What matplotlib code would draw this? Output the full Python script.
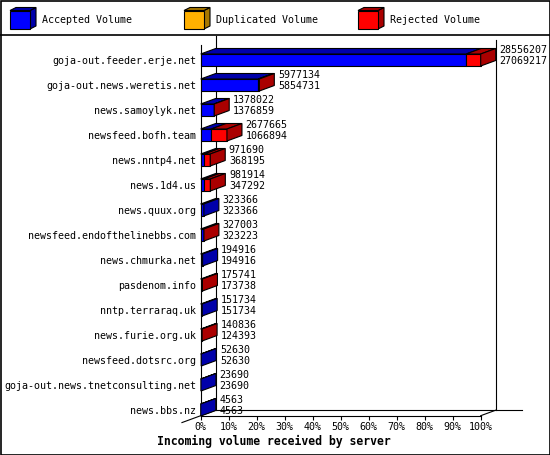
import numpy as np
import matplotlib
matplotlib.use("Agg")
import matplotlib.pyplot as plt
from matplotlib.patches import Polygon, Rectangle

servers = [
    "goja-out.feeder.erje.net", "goja-out.news.weretis.net", "news.samoylyk.net",
    "newsfeed.bofh.team", "news.nntp4.net", "news.1d4.us", "news.quux.org",
    "newsfeed.endofthelinebbs.com", "news.chmurka.net", "pasdenom.info",
    "nntp.terraraq.uk", "news.furie.org.uk", "newsfeed.dotsrc.org",
    "goja-out.news.tnetconsulting.net", "news.bbs.nz",
]
total = [28556207, 5977134, 1378022, 2677665, 971690, 981914, 323366, 327003,
         194916, 175741, 151734, 140836, 52630, 23690, 4563]
accepted = [27069217, 5854731, 1376859, 1066894, 368195, 347292, 323366, 323223,
            194916, 173738, 151734, 124393, 52630, 23690, 4563]
duplicated = [0] * len(servers)

legend_names = ["Accepted Volume", "Duplicated Volume", "Rejected Volume"]
front_cols = ["#0000ff", "#ffb000", "#ff0000"]
dark_cols = ["#0000aa", "#a87800", "#aa0000"]

W, H = 550, 455
FONT = "DejaVu Sans Mono"
FS = 7.2
LW = 0.8

fig = plt.figure(figsize=(W / 100, H / 100), dpi=100)

# canvas in pixel units for the frame and legend
bg = fig.add_axes([0, 0, 1, 1])
bg.set_xlim(0, W)
bg.set_ylim(H, 0)
bg.axis("off")
bg.add_patch(Rectangle((0.5, 0.5), W - 1, H - 1, fill=False, ec="black", lw=1.2))
bg.plot([0, W], [35, 35], color="black", lw=1.2)

for k, name in enumerate(legend_names):
    x0 = [10, 184, 358][k]
    bg.add_patch(Polygon([(x0 + 20, 10.5), (x0 + 26, 7.5), (x0 + 26, 26), (x0 + 20, 29)],
                         fc=dark_cols[k], ec="black", lw=LW))
    bg.add_patch(Polygon([(x0, 10.5), (x0 + 6, 7.5), (x0 + 26, 7.5), (x0 + 20, 10.5)],
                         fc=dark_cols[k], ec="black", lw=LW))
    bg.add_patch(Rectangle((x0, 10.5), 20, 18.5, fc=front_cols[k], ec="black", lw=LW))
    bg.text(x0 + 32, 20, name, fontsize=FS, family=FONT, va="center", ha="left")

bg.text(274, 441.5, "Incoming volume received by server", fontsize=8.3,
        family=FONT, weight="bold", ha="center", va="center")

# plot area: 0..100% on the front plane
left_px, right_px, top_px, bot_px = 200.7, 480.7, 40, 415.7
ax = fig.add_axes([left_px / W, 1 - bot_px / H, (right_px - left_px) / W, (bot_px - top_px) / H])
ax.patch.set_visible(False)
row0 = 60
ybot = (bot_px - row0) / 25
ytop = (top_px - row0) / 25
ax.set_xlim(0, 100)
ax.set_ylim(ybot, ytop)

DX = 15 / (right_px - left_px) * 100
DY = -5.5 / 25
HH = 6 / 25

tot = np.array(total, float)
acc = np.array(accepted, float)
dup = np.array(duplicated, float)
rej = tot - acc - dup
scale = 100 / tot.max()

# back walls and floor
ax.plot([DX, DX], [ybot + DY, (36 - row0) / 25], color="black", lw=LW, clip_on=False, zorder=0)
ax.plot([100 + DX, 100 + DX], [ybot + DY, ytop], color="black", lw=LW, clip_on=False, zorder=0)
ax.plot([DX, 114.8], [ybot + DY, ybot + DY], color="black", lw=LW, clip_on=False, zorder=0)
ax.plot([-1.25 * DX, DX], [ybot - 1.25 * DY, ybot + DY], color="black", lw=LW, clip_on=False, zorder=0)
ax.plot([100, 100 + DX], [ybot, ybot + DY], color="black", lw=LW, clip_on=False, zorder=0)

for i in range(len(servers)):
    left = 0.0
    last = 0
    for k, vals in enumerate([acc, dup, rej]):
        v = vals[i] * scale
        if v <= 0:
            continue
        ax.barh(i, v, left=left, height=2 * HH, color=front_cols[k], ec="black", lw=LW,
                clip_on=False, zorder=3)
        ax.add_patch(Polygon([(left, i - HH), (left + v, i - HH), (left + v + DX, i - HH + DY),
                              (left + DX, i - HH + DY)], fc=dark_cols[k], ec="black", lw=LW,
                             clip_on=False, zorder=3))
        left += v
        last = k
    ax.add_patch(Polygon([(left, i - HH), (left + DX, i - HH + DY), (left + DX, i + HH + DY),
                          (left, i + HH)], fc=dark_cols[last], ec="black", lw=LW,
                         clip_on=False, zorder=3))
    tx = left + DX + 1.3
    ax.text(tx, i - 0.4, str(total[i]), fontsize=FS, family=FONT, va="center", ha="left")
    ax.text(tx, i + 0.04, str(accepted[i]), fontsize=FS, family=FONT, va="center", ha="left")

ax.set_yticks(range(len(servers)), servers, fontsize=FS, family=FONT)
ax.tick_params(axis="y", length=0, pad=3.4)
ticks = list(range(0, 101, 10))
ax.set_xticks(ticks, [f"{t}%" for t in ticks], fontsize=FS, family=FONT)
ax.tick_params(axis="x", length=2.9, width=LW, pad=1.5)
for s in ["top", "right"]:
    ax.spines[s].set_visible(False)
ax.spines["bottom"].set_linewidth(LW)
ax.spines["left"].set_linewidth(LW)
ax.spines["left"].set_bounds(ybot, (45 - row0) / 25)

fig.savefig("out.png", dpi=100)
